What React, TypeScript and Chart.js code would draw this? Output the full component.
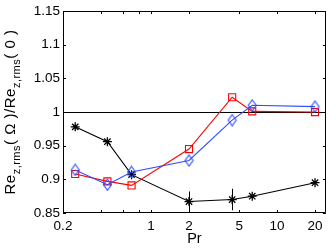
import React, { useEffect, useRef } from "react";
import { Chart, registerables } from "chart.js";

Chart.register(...registerables);

// ---- data ----
const prValues = [0.25, 0.45, 0.7, 2, 4.4, 6.35, 20];
const blackSeries = [0.978, 0.956, 0.907, 0.867, 0.87, 0.875, 0.895];
const blackErrors = [0, 0, 0, 0.015, 0.016, 0, 0];
const redSeries = [0.908, 0.897, 0.891, 0.945, 1.022, 1.001, 1.0];
const blueSeries = [0.914, 0.892, 0.911, 0.928, 0.988, 1.01, 1.008];

const xTickValues = [0.2, 0.4, 0.6, 0.8, 1, 2, 5, 10, 20];
const xTickLabels = ["0.2", "", "", "", "1", "2", "5", "10", "20"];
const yTickValues = [0.85, 0.9, 0.95, 1, 1.05, 1.1, 1.15];
const yTickLabels = ["0.85", "0.9", "0.95", "1", "1.05", "1.1", "1.15"];
const referenceLevel = 1;
const xTitle = "Pr";
const yTitleParts: { text: string; sub: boolean }[] = [
  { text: "Re", sub: false },
  { text: "z,rms", sub: true },
  { text: "( Ω )/Re", sub: false },
  { text: "z,rms", sub: true },
  { text: "( 0 )", sub: false },
];

const FONT = "'Liberation Sans', Arial, Helvetica, sans-serif";

function makeDiamond(color: string) {
  const c = document.createElement("canvas");
  c.width = 11;
  c.height = 13;
  const g = c.getContext("2d")!;
  g.strokeStyle = color;
  g.lineWidth = 1.1;
  g.beginPath();
  g.moveTo(5.5, 1);
  g.lineTo(9.5, 6.5);
  g.lineTo(5.5, 12);
  g.lineTo(1.5, 6.5);
  g.closePath();
  g.stroke();
  return c;
}

const framePlugin = {
  id: "framePlugin",
  beforeDatasetsDraw(chart: any) {
    const { ctx, chartArea } = chart;
    const { left, right, top, bottom } = chartArea;
    const xs = chart.scales.x;
    const ys = chart.scales.y;
    ctx.save();
    ctx.strokeStyle = "#000";
    ctx.lineWidth = 1;
    // reference line
    const yr = Math.round(ys.getPixelForValue(referenceLevel)) + 0.5;
    ctx.beginPath();
    ctx.moveTo(left, yr);
    ctx.lineTo(right, yr);
    ctx.stroke();
    // box
    ctx.beginPath();
    ctx.rect(Math.round(left) + 0.5, Math.round(top) + 0.5, Math.round(right - left) - 1, Math.round(bottom - top) - 1);
    ctx.stroke();
    // inward ticks
    const tl = 3;
    ctx.beginPath();
    xTickValues.forEach((v) => {
      const px = Math.round(xs.getPixelForValue(v)) + 0.5;
      ctx.moveTo(px, bottom);
      ctx.lineTo(px, bottom - tl);
      ctx.moveTo(px, top);
      ctx.lineTo(px, top + tl);
    });
    yTickValues.forEach((v) => {
      const py = Math.round(ys.getPixelForValue(v)) + 0.5;
      ctx.moveTo(left, py);
      ctx.lineTo(left + tl, py);
      ctx.moveTo(right, py);
      ctx.lineTo(right - tl, py);
    });
    ctx.stroke();
    ctx.restore();
  },
  afterDatasetsDraw(chart: any) {
    const { ctx } = chart;
    const xs = chart.scales.x;
    const ys = chart.scales.y;
    ctx.save();
    ctx.strokeStyle = "#000";
    ctx.lineWidth = 1;
    ctx.beginPath();
    prValues.forEach((v, i) => {
      const e = blackErrors[i];
      if (!e) return;
      const px = Math.round(xs.getPixelForValue(v)) + 0.5;
      ctx.moveTo(px, ys.getPixelForValue(blackSeries[i] - e));
      ctx.lineTo(px, ys.getPixelForValue(blackSeries[i] + e));
    });
    ctx.stroke();
    ctx.restore();
  },
  afterDraw(chart: any) {
    const { ctx, chartArea } = chart;
    const cy = (chartArea.top + chartArea.bottom) / 2;
    ctx.save();
    ctx.fillStyle = "#000";
    ctx.translate(15, cy);
    ctx.rotate(-Math.PI / 2);
    ctx.textBaseline = "alphabetic";
    ctx.textAlign = "left";
    try {
      (ctx as any).letterSpacing = "0.5px";
    } catch (e) {}
    const mainFont = `15px ${FONT}`;
    const subFont = `11px ${FONT}`;
    const widths = yTitleParts.map((p) => {
      ctx.font = p.sub ? subFont : mainFont;
      return ctx.measureText(p.text).width;
    });
    const total = widths.reduce((a, b) => a + b, 0);
    let x = -total / 2;
    yTitleParts.forEach((p, i) => {
      ctx.font = p.sub ? subFont : mainFont;
      ctx.fillText(p.text, x, p.sub ? 4.5 : 0);
      x += widths[i];
    });
    ctx.restore();
  },
};

export default function App() {
  const canvasRef = useRef<HTMLCanvasElement | null>(null);

  useEffect(() => {
    document.body.style.margin = "0";
    const canvas = canvasRef.current;
    if (!canvas) return;
    const toPoints = (ys: number[]) => prValues.map((x, i) => ({ x, y: ys[i] }));
    const diamond = makeDiamond("rgb(45,75,255)");

    const chart = new Chart(canvas, {
      type: "line",
      data: {
        datasets: [
          {
            label: "blue",
            data: toPoints(blueSeries),
            borderColor: "rgb(45,75,255)",
            backgroundColor: "rgba(0,0,0,0)",
            borderWidth: 1.1,
            pointStyle: diamond as any,
            pointRadius: 5,
            order: 0,
          },
          {
            label: "red",
            data: toPoints(redSeries),
            borderColor: "#ff0000",
            backgroundColor: "rgba(0,0,0,0)",
            pointBackgroundColor: "rgba(0,0,0,0)",
            pointBorderColor: "#ff0000",
            borderWidth: 1.1,
            pointBorderWidth: 1.1,
            pointStyle: "rect",
            pointRadius: 5,
            order: 1,
          },
          {
            label: "black",
            data: toPoints(blackSeries),
            borderColor: "#000",
            backgroundColor: "rgba(0,0,0,0)",
            pointBorderColor: "#000",
            borderWidth: 1.1,
            pointBorderWidth: 1.3,
            pointStyle: "star",
            pointRadius: 4.5,
            order: 2,
          },
        ],
      },
      options: {
        responsive: false,
        animation: false,
        devicePixelRatio: 1,
        layout: { padding: { top: 9, right: 1, left: 0, bottom: 0 } },
        plugins: { legend: { display: false }, tooltip: { enabled: false } },
        elements: { line: { tension: 0 } },
        scales: {
          x: {
            type: "logarithmic",
            min: 0.2,
            max: 24.4,
            afterBuildTicks: (s: any) => {
              s.ticks = xTickValues.map((v) => ({ value: v }));
            },
            afterFit: (s: any) => {
              s.height = 37;
            },
            grid: { display: false, drawTicks: false },
            border: { display: false },
            ticks: {
              autoSkip: false,
              maxRotation: 0,
              padding: 5,
              color: "#000",
              font: { family: FONT, size: 13.5 },
              callback: (_v: any, i: number) => xTickLabels[i],
            },
            title: {
              display: true,
              text: xTitle,
              color: "#000",
              font: { family: FONT, size: 14.5 },
              padding: { top: 0, bottom: 2 },
            },
          },
          y: {
            type: "linear",
            min: 0.85,
            max: 1.15,
            afterBuildTicks: (s: any) => {
              s.ticks = yTickValues.map((v) => ({ value: v }));
            },
            afterFit: (s: any) => {
              s.width = 63;
            },
            grid: { display: false, drawTicks: false },
            border: { display: false },
            ticks: {
              autoSkip: false,
              padding: 3,
              color: "#000",
              font: { family: FONT, size: 13.5 },
              callback: (_v: any, i: number) => yTickLabels[i],
            },
          },
        },
      },
      plugins: [framePlugin],
    });
    return () => chart.destroy();
  }, []);

  return (
    <div style={{ width: 332, height: 250 }}>
      <canvas ref={canvasRef} width={332} height={250} style={{ width: 332, height: 250, display: "block" }} />
    </div>
  );
}
